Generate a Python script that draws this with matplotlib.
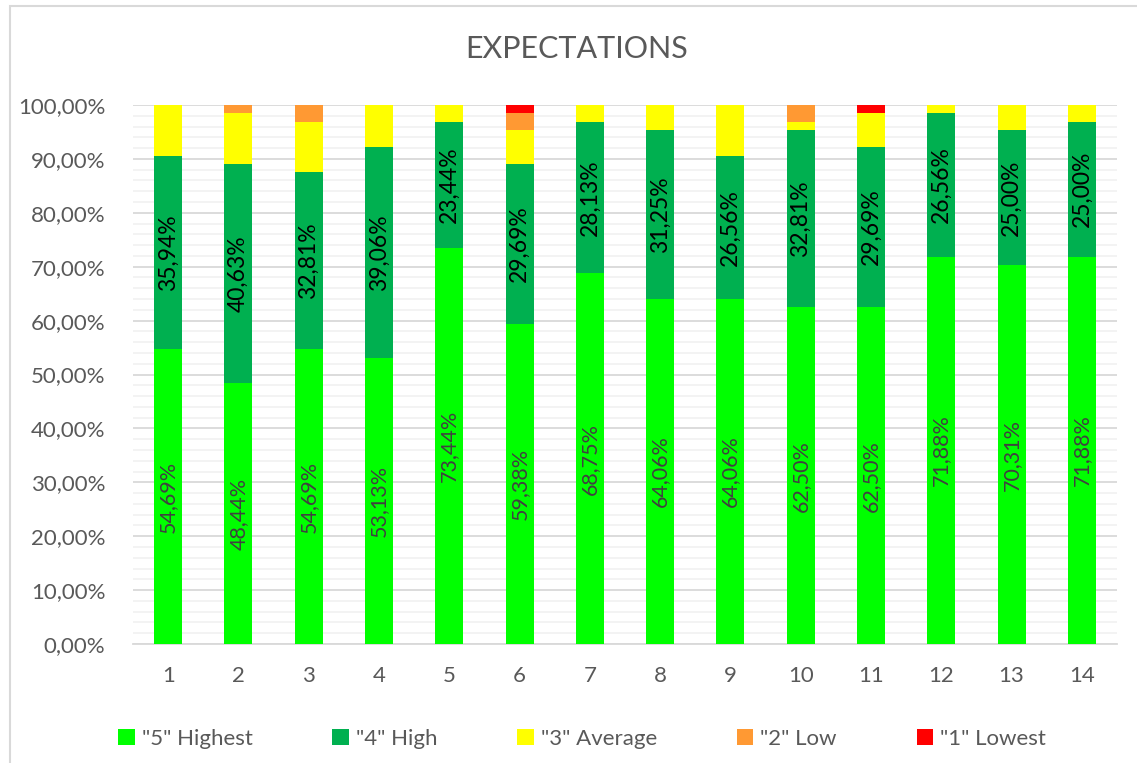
import matplotlib
matplotlib.use("Agg")
import matplotlib.pyplot as plt
from matplotlib.patches import Rectangle
from matplotlib.ticker import MultipleLocator, FuncFormatter
import numpy as np

plt.rcParams['font.family'] = ['Lato', 'DejaVu Sans']

categories = [str(i) for i in range(1, 15)]
highest = [54.69, 48.44, 54.69, 53.13, 73.44, 59.38, 68.75, 64.06, 64.06, 62.50, 62.50, 71.88, 70.31, 71.88]
high = [35.94, 40.63, 32.81, 39.06, 23.44, 29.69, 28.13, 31.25, 26.56, 32.81, 29.69, 26.56, 25.00, 25.00]
average = [9.38, 9.38, 9.38, 7.81, 3.13, 6.25, 3.13, 4.69, 9.38, 1.56, 6.25, 1.56, 4.69, 3.13]
low = [0.00, 1.56, 3.13, 0.00, 0.00, 3.13, 0.00, 0.00, 0.00, 3.13, 0.00, 0.00, 0.00, 0.00]
lowest = [0.00, 0.00, 0.00, 0.00, 0.00, 1.56, 0.00, 0.00, 0.00, 0.00, 1.56, 0.00, 0.00, 0.00]

series = [
    ('"5" Highest', highest, '#00FF00'),
    ('"4" High', high, '#00B050'),
    ('"3" Average', average, '#FFFF00'),
    ('"2" Low', low, '#FF9933'),
    ('"1" Lowest', lowest, '#FF0000'),
]

text_gray = '#595959'

fig = plt.figure(figsize=(11.37, 7.63), dpi=100)
ax = fig.add_axes([133 / 1137, 1 - 644 / 763, (1117 - 133) / 1137, (644 - 105) / 763])

# chart border
fig.patches.append(Rectangle((10 / 1137, -0.05), 1.2, 1 - 6 / 763 + 0.05,
                             transform=fig.transFigure, fill=False,
                             edgecolor='#d9d9d9', linewidth=1.5, zorder=0))

x = np.arange(1, len(categories) + 1)
bottom = np.zeros(len(categories))
bars = {}
for name, vals, color in series:
    v = np.array(vals)
    bars[name] = ax.bar(x, v, bottom=bottom, width=0.4, color=color,
                        label=name, zorder=3, linewidth=0)
    bottom = bottom + v

def fmt(v):
    return f"{v:.2f}%".replace('.', ',')

for i in range(len(categories)):
    ax.text(x[i], highest[i] / 2, fmt(highest[i]), rotation=90,
            ha='center', va='center', fontsize=15.5, color='#404040', zorder=4)
    ax.text(x[i], highest[i] + high[i] / 2, fmt(high[i]), rotation=90,
            ha='center', va='center', fontsize=16.5, color='black', zorder=4)

ax.set_xlim(0.5, 14.5)
ax.set_ylim(0, 100)
ax.set_xticks(x)
ax.set_xticklabels(categories)
ax.yaxis.set_major_locator(MultipleLocator(10))
ax.yaxis.set_minor_locator(MultipleLocator(2))
ax.yaxis.set_major_formatter(FuncFormatter(lambda v, p: fmt(v)))
ax.grid(axis='y', which='major', color='#d9d9d9', linewidth=1.3, zorder=0)
ax.grid(axis='y', which='minor', color='#f2f2f2', linewidth=1.3, zorder=0)
ax.set_axisbelow(True)
for s in ['top', 'right', 'left']:
    ax.spines[s].set_visible(False)
ax.spines['bottom'].set_color('#d9d9d9')
ax.spines['bottom'].set_linewidth(1.3)
ax.tick_params(axis='both', which='both', length=0, labelsize=16, colors=text_gray)
ax.tick_params(axis='x', pad=16)
ax.tick_params(axis='y', pad=20)

fig.text(577 / 1137, 1 - 49 / 763, 'EXPECTATIONS', ha='center', va='center',
         fontsize=22, color=text_gray)

handles = [bars[name] for name, _, _ in series]
fig.legend(handles, [s[0] for s in series], loc='center', ncol=5,
           bbox_to_anchor=(582 / 1137, 1 - 739 / 763), frameon=False,
           fontsize=16, labelcolor=text_gray, handlelength=0.75, handleheight=0.75,
           handletextpad=0.3, columnspacing=3.6)

fig.savefig('out.png', dpi=100)
